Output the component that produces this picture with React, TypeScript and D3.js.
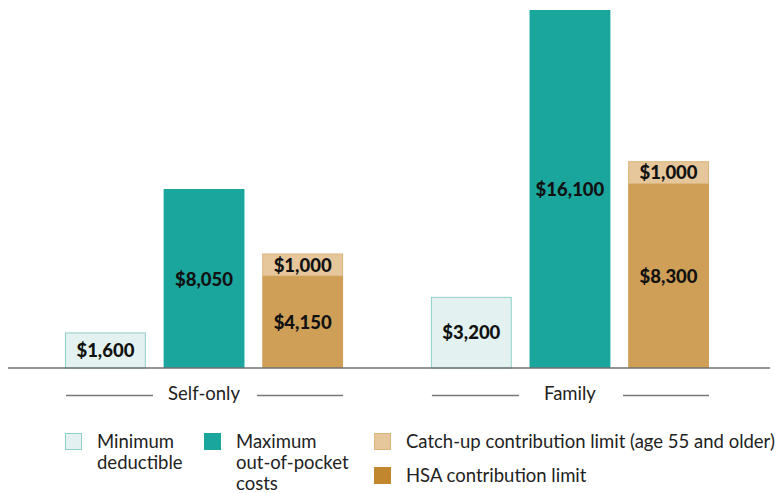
import React from "react";
import * as d3 from "d3";

const groups = ["Self-only", "Family"];
const seriesKeys = ["min", "max", "hsa"];
const minDeductible = [1600, 3200];
const maxOutOfPocket = [8050, 16100];
const hsaLimit = [4150, 8300];
const catchUp = [1000, 1000];

const legendItems = [
  { key: "min", lines: ["Minimum", "deductible"] },
  { key: "max", lines: ["Maximum", "out-of-pocket", "costs"] },
  { key: "catch", lines: ["Catch-up contribution limit (age 55 and older)"] },
  { key: "hsa", lines: ["HSA contribution limit"] },
];

const W = 778;
const H = 493;
const FONT = "Lato, 'Noto Sans', sans-serif";

const colors = {
  minFill: "#e3f2f0",
  minStroke: "#8fd0ca",
  max: "#1aa59d",
  hsa: "#cf9f57",
  hsaLegend: "#c0872e",
  catchFill: "#e5c79b",
  catchStroke: "#dbb57c",
};

const fmt = (v: number) => "$" + d3.format(",")(v);

export default function App() {
  const baseline = 368;
  const y = d3.scaleLinear().domain([0, 16100]).range([baseline, 10]);
  const x0 = d3.scaleBand<string>().domain(groups).range([65, 709]).paddingInner(0.24).paddingOuter(0);
  const x1 = d3.scaleBand<string>().domain(seriesKeys).range([0, x0.bandwidth()]).paddingInner(0.18).paddingOuter(0);
  const bw = x1.bandwidth();

  const label = (cx: number, cy: number, v: number, k: string) => (
    <text key={k} x={cx} y={cy} textAnchor="middle" dominantBaseline="central"
      fontFamily={FONT} fontWeight={900} fontSize={18.5} fill="#111">{fmt(v)}</text>
  );

  return (
    <svg width={W} height={H} style={{ position: "absolute", left: 0, top: 0 }}>
      {groups.map((g, i) => {
        const gx = x0(g)!;
        const xm = gx + x1("min")!;
        const xx = gx + x1("max")!;
        const xh = gx + x1("hsa")!;
        const yMin = y(minDeductible[i]);
        const yMax = y(maxOutOfPocket[i]);
        const yH = y(hsaLimit[i]);
        const yC = y(hsaLimit[i] + catchUp[i]);
        const cx = gx + x0.bandwidth() / 2;
        return (
          <g key={g}>
            <rect x={xm + 0.5} y={yMin + 0.5} width={bw - 1} height={baseline - yMin - 0.5}
              fill={colors.minFill} stroke={colors.minStroke} strokeWidth={1} />
            {label(xm + bw / 2, (yMin + baseline) / 2, minDeductible[i], "l1")}
            <rect x={xx} y={yMax} width={bw} height={baseline - yMax} fill={colors.max} />
            {label(xx + bw / 2, (yMax + baseline) / 2, maxOutOfPocket[i], "l2")}
            <rect x={xh} y={yH} width={bw} height={baseline - yH} fill={colors.hsa} />
            {label(xh + bw / 2, (yH + baseline) / 2, hsaLimit[i], "l3")}
            <rect x={xh + 0.5} y={yC + 0.5} width={bw - 1} height={yH - yC - 0.5}
              fill={colors.catchFill} stroke={colors.catchStroke} strokeWidth={1} />
            {label(xh + bw / 2, (yC + yH) / 2, catchUp[i], "l4")}
            <line x1={gx + 1} x2={gx + 88} y1={395.5} y2={395.5} stroke="#777" strokeWidth={1.5} />
            <line x1={gx + x0.bandwidth() - 86} x2={gx + x0.bandwidth()} y1={395.5} y2={395.5} stroke="#777" strokeWidth={1.5} />
            <text x={cx} y={393} textAnchor="middle" dominantBaseline="central"
              fontFamily={FONT} fontSize={18.5} fill="#222">{g}</text>
          </g>
        );
      })}
      <line x1={8} x2={770} y1={baseline} y2={baseline} stroke="#707070" strokeWidth={1.5} />

      {legendItems.map((it) => {
        const pos: Record<string, { x: number; y: number }> = {
          min: { x: 65, y: 433 },
          max: { x: 204, y: 433 },
          catch: { x: 374, y: 433 },
          hsa: { x: 374, y: 467 },
        };
        const p = pos[it.key];
        let sw;
        if (it.key === "min") sw = <rect x={p.x + 0.5} y={p.y + 0.5} width={16} height={16} fill={colors.minFill} stroke={colors.minStroke} />;
        else if (it.key === "max") sw = <rect x={p.x} y={p.y} width={17} height={17} fill={colors.max} />;
        else if (it.key === "catch") sw = <rect x={p.x + 0.5} y={p.y + 0.5} width={16} height={16} fill={colors.catchFill} stroke={colors.catchStroke} />;
        else sw = <rect x={p.x} y={p.y} width={17} height={17} fill={colors.hsaLegend} />;
        return (
          <g key={it.key}>
            {sw}
            <text fontFamily={FONT} fontSize={18.5} fill="#222">
              {it.lines.map((ln, j) => (
                <tspan key={j} x={p.x + 32} y={p.y + 15 + j * 21}>{ln}</tspan>
              ))}
            </text>
          </g>
        );
      })}
    </svg>
  );
}
